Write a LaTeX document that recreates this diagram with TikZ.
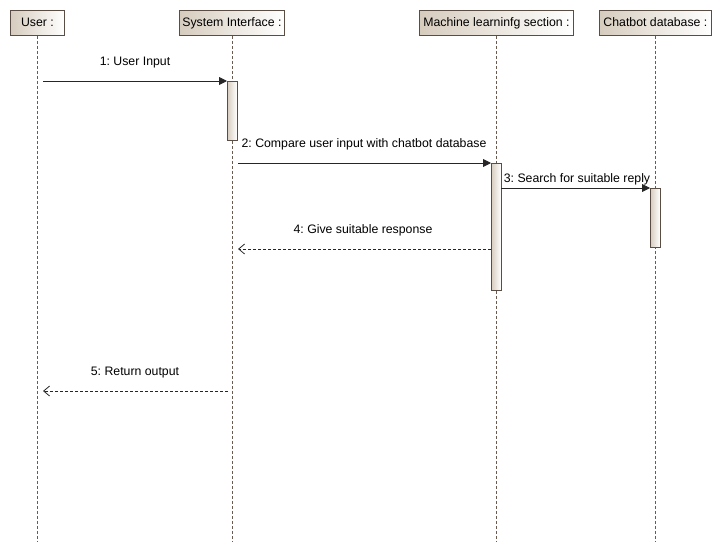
\documentclass[tikz,border=0pt]{standalone}
\usepackage{fontspec}
\setmainfont{Liberation Sans}
\frenchspacing
\usetikzlibrary{arrows.meta}
\definecolor{edge}{HTML}{5A4E44}
\definecolor{lifec}{HTML}{6A5A50}
\definecolor{tanl}{HTML}{D6CCBE}
\begin{document}
\begin{tikzpicture}[x=1pt,y=-1pt,
  font=\fontsize{12.3}{14}\selectfont,
  head/.style={draw=edge,line width=0.9pt,left color=tanl,right color=white,minimum height=25pt,inner sep=0pt,text height=9pt,text depth=2.5pt,anchor=north west},
  life/.style={draw=lifec,dashed,dash pattern=on 3pt off 2pt,line width=0.8pt},
  act/.style={draw=edge,line width=0.9pt,left color=tanl,right color=white},
  msg/.style={draw=black!85,line width=0.9pt,-{Triangle[length=8pt,width=8pt]}},
  ret/.style={draw=black!85,line width=0.8pt,dash pattern=on 3pt off 2pt,-{Straight Barb[length=6pt,width=10pt]}},
  lbl/.style={inner sep=0pt,anchor=base}]
\useasboundingbox (0,0) rectangle (722,551);
% headers
\node[head,minimum width=54pt] (hU) at (10,10) {User :};
\node[head,minimum width=105pt] (hS) at (179,10) {System Interface :};
\node[head,minimum width=154pt] (hM) at (419,10) {Machine learninfg section :};
\node[head,minimum width=112pt] (hC) at (599,10) {Chatbot database :};
% lifeline ends
\coordinate (eU) at (37,541);
\coordinate (eS) at (232,541);
\coordinate (eM) at (496,541);
\coordinate (eC) at (655,541);
\draw[life] (hU.south -| eU) -- (eU);
\draw[life] (hS.south -| eS) -- (eS);
\draw[life] (hM.south -| eM) -- (eM);
\draw[life] (hC.south -| eC) -- (eC);
% activations
\path[act] (227,81) rectangle (237,140);
\path[act] (491,163) rectangle (501,290);
\path[act] (650,188) rectangle (660,247);
\coordinate (aS1) at (227,81);
\coordinate (aM1) at (491,163);
\coordinate (aC1) at (650,188);
\coordinate (m1s) at (43,81);
\coordinate (m2s) at (238,163);
\coordinate (m3s) at (501,188);
\coordinate (m4s) at (491,249);
\coordinate (m4e) at (238,249);
\coordinate (m5s) at (228,391);
\coordinate (m5e) at (43,391);
% messages
\draw[msg] (m1s) -- (aS1);
\draw[msg] (m2s) -- (aM1);
\draw[msg] (m3s) -- (aC1);
\draw[ret] (m4s) -- (m4e);
\draw[ret] (m5s) -- (m5e);
% labels
\node[lbl] (l1) at (135,65) {1: User Input};
\node[lbl] (l2) at (364,147) {2: Compare user input with chatbot database};
\node[lbl] (l3) at (577,182) {3: Search for suitable reply};
\node[lbl] (l4) at (363,233) {4: Give suitable response};
\node[lbl] (l5) at (135,375) {5: Return output};
\end{tikzpicture}
\end{document}
